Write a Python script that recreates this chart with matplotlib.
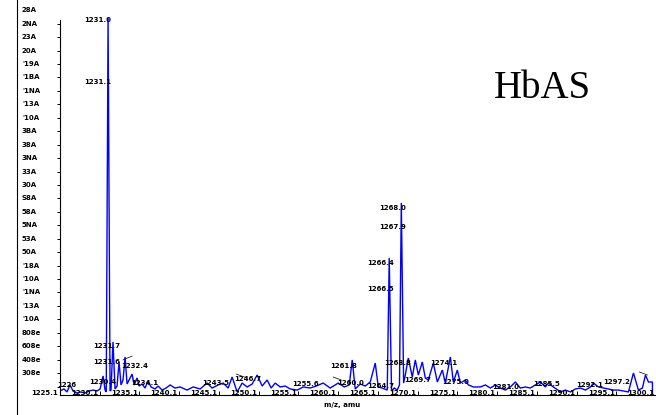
import matplotlib
matplotlib.use("Agg")
import matplotlib.pyplot as plt
from matplotlib.lines import Line2D

# Spectrum trace: m/z and intensity (axis units, one tick = 1)
mz = [
    1225.00, 1225.50, 1225.88, 1226.26, 1226.64, 1227.14, 1227.64, 1228.15, 1228.65, 1229.16,
    1229.66, 1230.04, 1230.42, 1230.67, 1230.82, 1231.05, 1231.30, 1231.42, 1231.67, 1231.93,
    1232.18, 1232.43, 1232.68, 1232.93, 1233.19, 1233.44, 1233.82, 1234.07, 1234.32, 1234.70,
    1234.95, 1235.33, 1235.70, 1236.08, 1236.46, 1236.96, 1237.34, 1237.85, 1238.35, 1238.85,
    1239.48, 1240.11, 1240.99, 1241.75, 1242.63, 1243.51, 1244.14, 1244.90, 1245.53, 1246.16,
    1246.66, 1247.29, 1247.92, 1248.55, 1249.18, 1249.81, 1250.44, 1251.07, 1251.57, 1252.08,
    1252.71, 1253.34, 1253.97, 1254.85, 1255.60, 1256.48, 1257.24, 1258.12, 1259.00, 1260.01,
    1260.77, 1261.40, 1261.77, 1262.15, 1262.78, 1263.41, 1264.04, 1264.67, 1265.05, 1265.55,
    1266.18, 1266.43, 1266.72, 1267.06, 1267.44, 1267.72, 1267.95, 1268.24, 1268.45, 1268.83,
    1269.33, 1269.71, 1270.09, 1270.59, 1270.97, 1271.35, 1271.98, 1272.48, 1273.11, 1273.49,
    1274.12, 1274.50, 1275.00, 1275.38, 1276.01, 1276.39, 1277.02, 1277.90, 1278.53, 1279.16,
    1279.78, 1280.41, 1281.04, 1281.67, 1282.30, 1282.93, 1283.56, 1284.19, 1284.82, 1285.45,
    1286.08, 1286.46, 1287.09, 1287.97, 1288.60, 1289.23, 1289.86, 1290.49, 1291.12, 1291.75,
    1292.13, 1292.76, 1293.39, 1294.01, 1294.64, 1295.27, 1295.90, 1296.53, 1297.16, 1297.79,
    1298.29, 1298.67, 1299.05, 1299.55, 1299.56,
]
intensity = [
    0.67, 0.82, 0.60, 1.12, 0.67, 0.52, 0.60, 0.52, 0.67, 0.74,
    0.67, 0.82, 1.79, 0.74, 0.60, 28.42, 0.67, 0.74, 4.32, 0.82,
    1.04, 2.83, 1.12, 1.49, 3.20, 1.19, 1.64, 1.93, 1.12, 1.64,
    1.04, 1.19, 0.89, 1.41, 0.97, 0.82, 1.04, 0.74, 0.89, 1.12,
    0.89, 0.97, 0.74, 0.97, 0.82, 1.26, 0.89, 1.12, 1.26, 0.89,
    1.71, 0.60, 1.26, 0.97, 1.19, 1.86, 1.04, 1.49, 0.89, 1.26,
    0.97, 1.04, 0.82, 0.74, 0.97, 0.89, 1.04, 1.26, 0.89, 1.26,
    0.97, 1.12, 2.98, 0.82, 1.19, 1.04, 1.34, 2.75, 0.97, 0.89,
    0.74, 10.57, 0.67, 0.89, 0.74, 1.12, 14.66, 1.26, 1.86, 3.12,
    1.71, 2.98, 1.86, 2.83, 1.64, 1.49, 2.75, 1.34, 2.23, 1.26,
    3.20, 1.34, 2.23, 1.26, 1.49, 1.12, 0.97, 0.97, 1.12, 0.89,
    1.12, 0.89, 0.74, 0.97, 1.34, 0.89, 0.97, 0.89, 1.12, 1.34,
    0.97, 1.26, 0.97, 0.60, 0.74, 0.60, 0.82, 0.89, 0.74, 0.97,
    1.26, 0.97, 0.89, 0.82, 0.74, 0.74, 0.67, 0.60, 2.01, 0.74,
    0.89, 1.86, 1.34, 1.34, 0.0,
]

# Axis ticks
x_ticks = [1225, 1230, 1235, 1240, 1245, 1250, 1255, 1260, 1265, 1270,
           1275, 1280, 1285, 1290, 1295, 1300]
x_tick_labels = ["1225.1", "1230.1", "1235.1", "1240.1", "1245.1", "1250.1", "1255.1",
                 "1260.1", "1265.1", "1270.1", "1275.1", "1280.1", "1285.1", "1290.1",
                 "1295.1", "1300.1"]
y_ticks = list(range(1, 29))
y_label_values = list(range(29, 1, -1))
y_tick_labels = ["28A", "2NA", "23A", "20A", "'19A", "'1BA", "'1NA", "'13A", "'10A",
                 "3BA", "38A", "3NA", "33A", "30A", "S8A", "58A", "5NA", "53A", "50A",
                 "'18A", "'10A", "'1NA", "'13A", "'10A", "808e", "608e", "408e", "308e"]

# Peak annotations: text and where it sits (m/z, intensity)
peak_labels = ["1231.0", "1231.1", "1231.7", "1231.6", "1232.4", "1230.4", "1234.1",
               "1226", "1243.5", "1246.7", "1255.6", "1261.8", "1260.0", "1264.7",
               "1268.8", "1268.0", "1267.9", "1266.4", "1266.5", "1274.1", "1269.7",
               "1275.0", "1281.0", "1285.5", "1292.1", "1297.2"]
label_mz = [1229.79, 1229.79, 1230.92, 1230.92, 1234.45, 1230.42, 1235.70,
            1225.80, 1244.65, 1248.68, 1255.86, 1260.64, 1261.52, 1265.30,
            1267.44, 1266.81, 1266.81, 1265.30, 1265.30, 1273.24, 1269.96,
            1274.75, 1281.04, 1286.21, 1291.60, 1295.02]
label_int = [28.27, 23.66, 4.02, 2.83, 2.53, 1.34, 1.26,
             1.10, 1.26, 1.56, 1.19, 2.53, 1.26, 1.04,
             2.75, 14.28, 12.87, 10.19, 8.26, 2.75, 1.49,
             1.34, 0.97, 1.19, 1.10, 1.34]
# short leader lines, (mz0, int0, mz1, int1)
leaders = [
    (1232.93, 2.98, 1234.07, 3.27),
    (1247.17, 1.93, 1248.55, 1.64),
    (1259.38, 1.71, 1260.39, 1.49),
    (1297.92, 2.08, 1298.92, 1.86),
]

W, H = 656, 415
fig = plt.figure(figsize=(W / 100, H / 100), dpi=100)
ax = fig.add_axes([60 / W, 20 / H, 596 / W, 395 / H])

small = dict(family=["Liberation Sans Narrow", "DejaVu Sans"], fontsize=5.0,
             fontweight="bold", color="black")

ax.plot(mz, intensity, color="#0000ff", linewidth=1.0, solid_joinstyle="miter")

for txt, xm, yi in zip(peak_labels, label_mz, label_int):
    ax.text(xm, yi, txt, ha="center", va="center", **small)
for x0, y0, x1, y1 in leaders:
    ax.plot([x0, x1], [y0, y1], color="black", linewidth=0.5)

ax.set_xlim(1225, 1300)
ax.set_ylim(0.372, 29.76)

for side in ("top", "right"):
    ax.spines[side].set_visible(False)
ax.spines["left"].set_bounds(0.372, 28.27)
ax.spines["left"].set_linewidth(0.8)
ax.spines["bottom"].set_linewidth(0.8)

ax.set_yticks(y_ticks)
ax.set_yticklabels([])
ax.tick_params(axis="y", direction="out", length=2.5, width=0.7)
for v, lab in zip(y_label_values, y_tick_labels):
    ax.text(-38 / 596, v, lab, transform=ax.get_yaxis_transform(),
            ha="left", va="center", **small)

ax.set_xticks(x_ticks)
ax.set_xticklabels([])
ax.tick_params(axis="x", direction="in", length=3, width=0.7)
for v, lab in zip(x_ticks, x_tick_labels):
    ax.text(v - 0.2, 0.55, lab, ha="right", va="center", **small)

fig.text(342 / W, 1 - 405 / H, "m/z, amu", ha="center", va="center", **small)
fig.text(542 / W, 1 - 88 / H, "HbAS", ha="center", va="center",
         family=["Liberation Serif", "DejaVu Serif"], fontsize=28)

fig.add_artist(Line2D([17 / W, 17 / W], [0, 1], color="black", linewidth=0.8))

fig.savefig("out.png", dpi=100)
